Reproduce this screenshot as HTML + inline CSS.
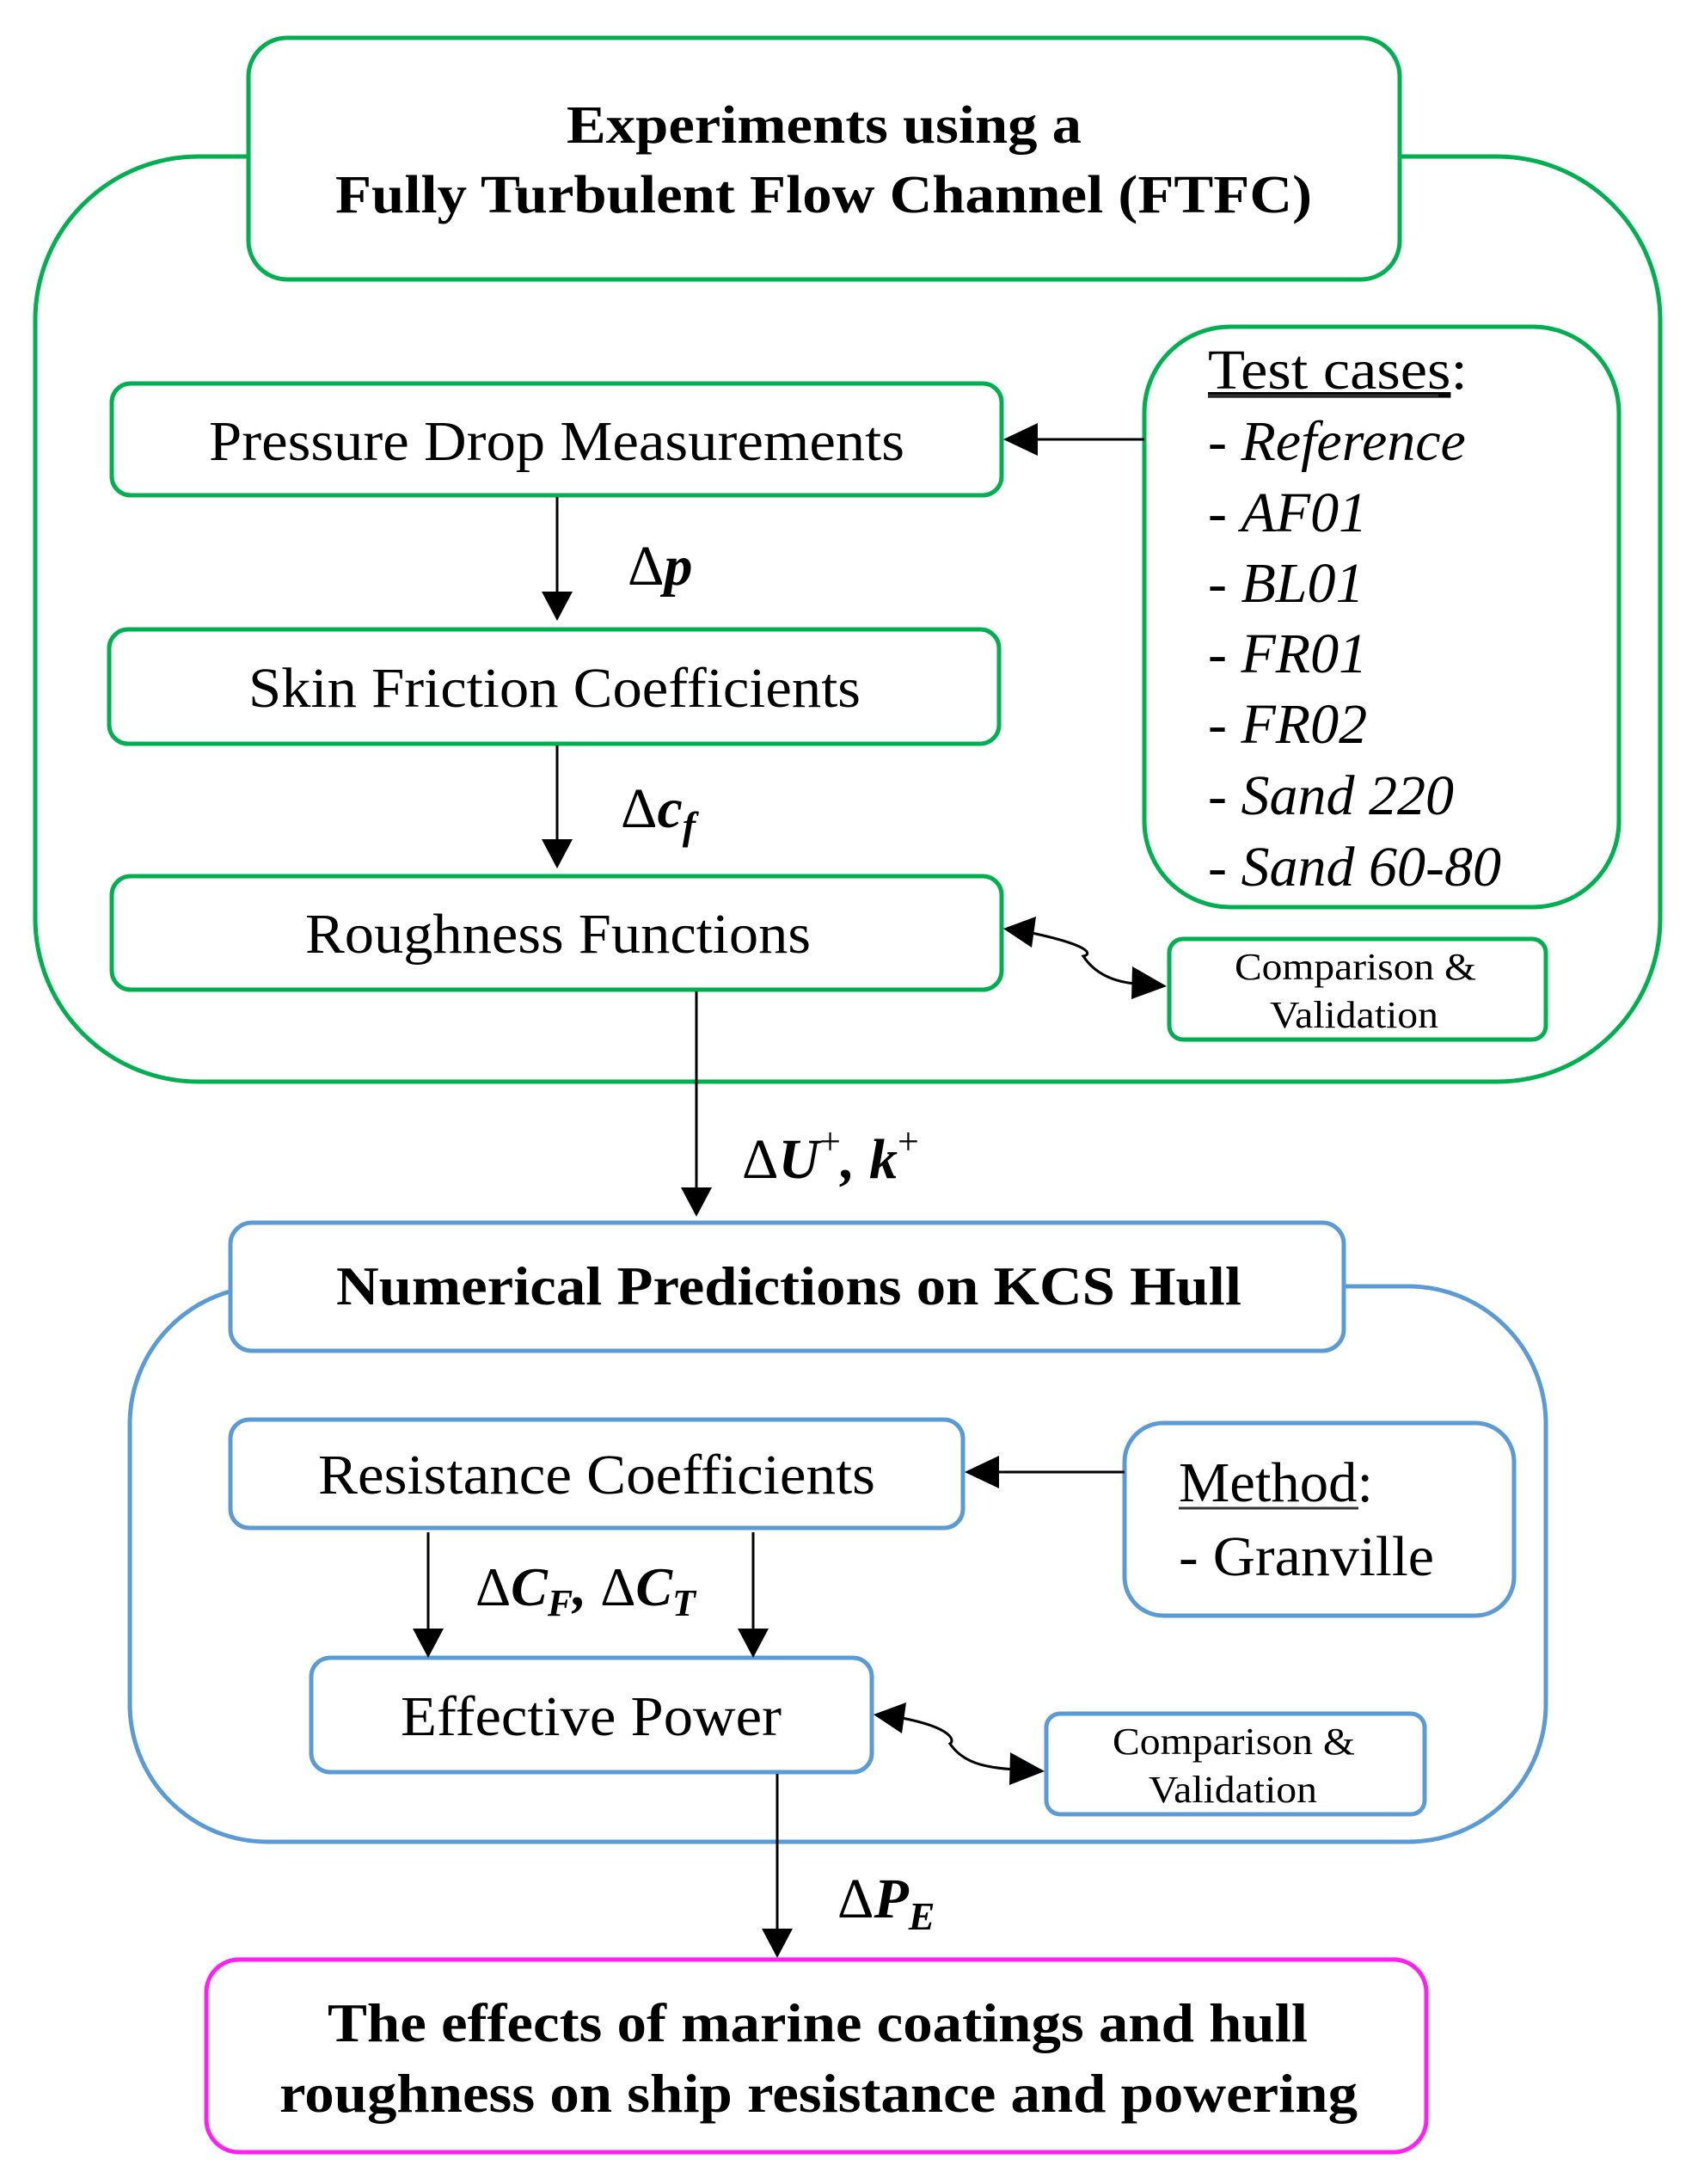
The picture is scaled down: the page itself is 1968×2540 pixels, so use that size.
<!DOCTYPE html>
<html><head><meta charset="utf-8"><style>
html,body{margin:0;padding:0;background:#fff;}
svg{display:block;}
text{font-family:"Liberation Serif","DejaVu Serif",serif;fill:#000;}
.b{font-weight:bold;}
.m{font-weight:bold;font-style:italic;}
</style></head><body>
<svg width="1968" height="2540" viewBox="0 0 1968 2540" xmlns="http://www.w3.org/2000/svg">
<defs>
<marker id="ah" markerWidth="10" markerHeight="10" refX="9" refY="5" orient="auto" markerUnits="userSpaceOnUse" viewBox="0 0 10 10">
</marker>
</defs>
<g fill="none" stroke-width="5">
<!-- green group -->
<rect x="41" y="182" width="1890" height="1076" rx="190" stroke="#00b050"/>
<rect x="289" y="44" width="1339" height="281" rx="45" stroke="#00b050" fill="#fff"/>
<rect x="130" y="446" width="1035" height="130" rx="22" stroke="#00b050"/>
<rect x="127" y="732" width="1035" height="133" rx="22" stroke="#00b050"/>
<rect x="130" y="1019" width="1035" height="132" rx="22" stroke="#00b050"/>
<rect x="1331" y="380" width="552" height="675" rx="100" stroke="#00b050"/>
<rect x="1360" y="1092" width="438" height="117" rx="16" stroke="#00b050"/>
<!-- blue group -->
<rect x="151" y="1496" width="1647" height="646" rx="160" stroke="#5b9bd5"/>
<rect x="268" y="1422" width="1295" height="149" rx="25" stroke="#5b9bd5" fill="#fff"/>
<rect x="268" y="1651" width="852" height="126" rx="22" stroke="#5b9bd5"/>
<rect x="1308" y="1655" width="453" height="224" rx="45" stroke="#5b9bd5"/>
<rect x="362" y="1928" width="652" height="133" rx="22" stroke="#5b9bd5"/>
<rect x="1217" y="1993" width="440" height="117" rx="16" stroke="#5b9bd5"/>
<!-- magenta -->
<rect x="240" y="2279" width="1419" height="224" rx="38" stroke="#ff1ff0"/>
</g>
<!-- connectors -->
<g stroke="#000" stroke-width="3" fill="none">
<line x1="648" y1="578" x2="648" y2="690"/>
<line x1="648" y1="867" x2="648" y2="976"/>
<line x1="810" y1="1153" x2="810" y2="1382"/>
<line x1="1331" y1="511" x2="1205" y2="511"/>
<line x1="1308" y1="1712" x2="1160" y2="1712"/>
<line x1="498" y1="1782" x2="498" y2="1895"/>
<line x1="876" y1="1782" x2="876" y2="1895"/>
<line x1="904" y1="2063" x2="904" y2="2244"/>
<path d="M1200,1085 C1270,1100 1270,1110 1260,1112 C1275,1135 1300,1142 1320,1144"/>
<path d="M1049,1998 C1110,2010 1110,2025 1105,2028 C1120,2050 1145,2056 1182,2058"/>
</g>
<g fill="#000">
<polygon points="648,722 630,688 666,688"/>
<polygon points="648,1010 630,976 666,976"/>
<polygon points="810,1415 792,1381 828,1381"/>
<polygon points="1167,511 1207,492 1207,530"/>
<polygon points="1122,1712 1162,1693 1162,1731"/>
<polygon points="498,1928 480,1894 516,1894"/>
<polygon points="876,1928 858,1894 894,1894"/>
<polygon points="904,2277 886,2243 922,2243"/>
<polygon points="1167,1080 1205,1066 1200,1102"/>
<polygon points="1357,1147 1317,1124 1316,1162"/>
<polygon points="1016,1994 1054,1980 1049,2016"/>
<polygon points="1215,2060 1175,2038 1174,2076"/>
</g>
<!-- texts -->
<text class="b" x="659" y="166" font-size="62" textLength="599" lengthAdjust="spacingAndGlyphs">Experiments using a</text>
<text class="b" x="390" y="247" font-size="62" textLength="1136" lengthAdjust="spacingAndGlyphs">Fully Turbulent Flow Channel (FTFC)</text>
<text x="243" y="535" font-size="66" textLength="809" lengthAdjust="spacingAndGlyphs">Pressure Drop Measurements</text>
<text x="289" y="822" font-size="66" textLength="712" lengthAdjust="spacingAndGlyphs">Skin Friction Coefficients</text>
<text x="355" y="1108" font-size="66" textLength="588" lengthAdjust="spacingAndGlyphs">Roughness Functions</text>
<text x="1405" y="452" font-size="66" textLength="302" lengthAdjust="spacingAndGlyphs"><tspan text-decoration="underline">Test cases</tspan>:</text>
<line x1="1405" y1="460" x2="1673" y2="460" stroke="#333" stroke-width="3"/>
<g font-size="66">
<text x="1405" y="535">- <tspan font-style="italic">Reference</tspan></text>
<text x="1405" y="618">- <tspan font-style="italic">AF01</tspan></text>
<text x="1405" y="700">- <tspan font-style="italic">BL01</tspan></text>
<text x="1405" y="782">- <tspan font-style="italic">FR01</tspan></text>
<text x="1405" y="864">- <tspan font-style="italic">FR02</tspan></text>
<text x="1405" y="947">- <tspan font-style="italic">Sand 220</tspan></text>
<text x="1405" y="1030">- <tspan font-style="italic">Sand 60-80</tspan></text>
</g>
<text x="1436" y="1139" font-size="44" textLength="281" lengthAdjust="spacingAndGlyphs">Comparison &amp;</text>
<text x="1477" y="1195" font-size="44" textLength="196" lengthAdjust="spacingAndGlyphs">Validation</text>
<text class="m" x="730" y="680" font-size="66"><tspan font-style="normal" font-weight="normal">Δ</tspan>p</text>
<text class="m" x="722" y="962" font-size="66"><tspan font-style="normal" font-weight="normal">Δ</tspan>c<tspan font-size="46" dy="14">f</tspan></text>
<text class="m" x="863" y="1370" font-size="66"><tspan font-style="normal" font-weight="normal">Δ</tspan>U<tspan font-size="44" dy="-28" font-style="normal" font-weight="normal">+</tspan><tspan dy="28">, k</tspan><tspan font-size="44" dy="-28" font-style="normal" font-weight="normal">+</tspan></text>
<text class="b" x="391" y="1517" font-size="64" textLength="1053" lengthAdjust="spacingAndGlyphs">Numerical Predictions on KCS Hull</text>
<text x="370" y="1737" font-size="66" textLength="648" lengthAdjust="spacingAndGlyphs">Resistance Coefficients</text>
<text x="1371" y="1746" font-size="66" textLength="226" lengthAdjust="spacingAndGlyphs">Method:</text>
<line x1="1371" y1="1754" x2="1580" y2="1754" stroke="#333" stroke-width="3"/>
<text x="1371" y="1832" font-size="66" textLength="297" lengthAdjust="spacingAndGlyphs">- Granville</text>
<text class="m" x="553" y="1867" font-size="64"><tspan font-style="normal" font-weight="normal">Δ</tspan>C<tspan font-size="44" dy="12">F</tspan><tspan dy="-12">, </tspan><tspan font-style="normal" font-weight="normal">Δ</tspan>C<tspan font-size="44" dy="12">T</tspan></text>
<text x="466" y="2018" font-size="66" textLength="443" lengthAdjust="spacingAndGlyphs">Effective Power</text>
<text x="1294" y="2040" font-size="44" textLength="282" lengthAdjust="spacingAndGlyphs">Comparison &amp;</text>
<text x="1336" y="2096" font-size="44" textLength="196" lengthAdjust="spacingAndGlyphs">Validation</text>
<text class="m" x="974" y="2230" font-size="66"><tspan font-style="normal" font-weight="normal">Δ</tspan>P<tspan font-size="46" dy="14">E</tspan></text>
<text class="b" x="381" y="2374" font-size="64" textLength="1140" lengthAdjust="spacingAndGlyphs">The effects of marine coatings and hull</text>
<text class="b" x="325" y="2456" font-size="64" textLength="1254" lengthAdjust="spacingAndGlyphs">roughness on ship resistance and powering</text>
</svg>
</body></html>
